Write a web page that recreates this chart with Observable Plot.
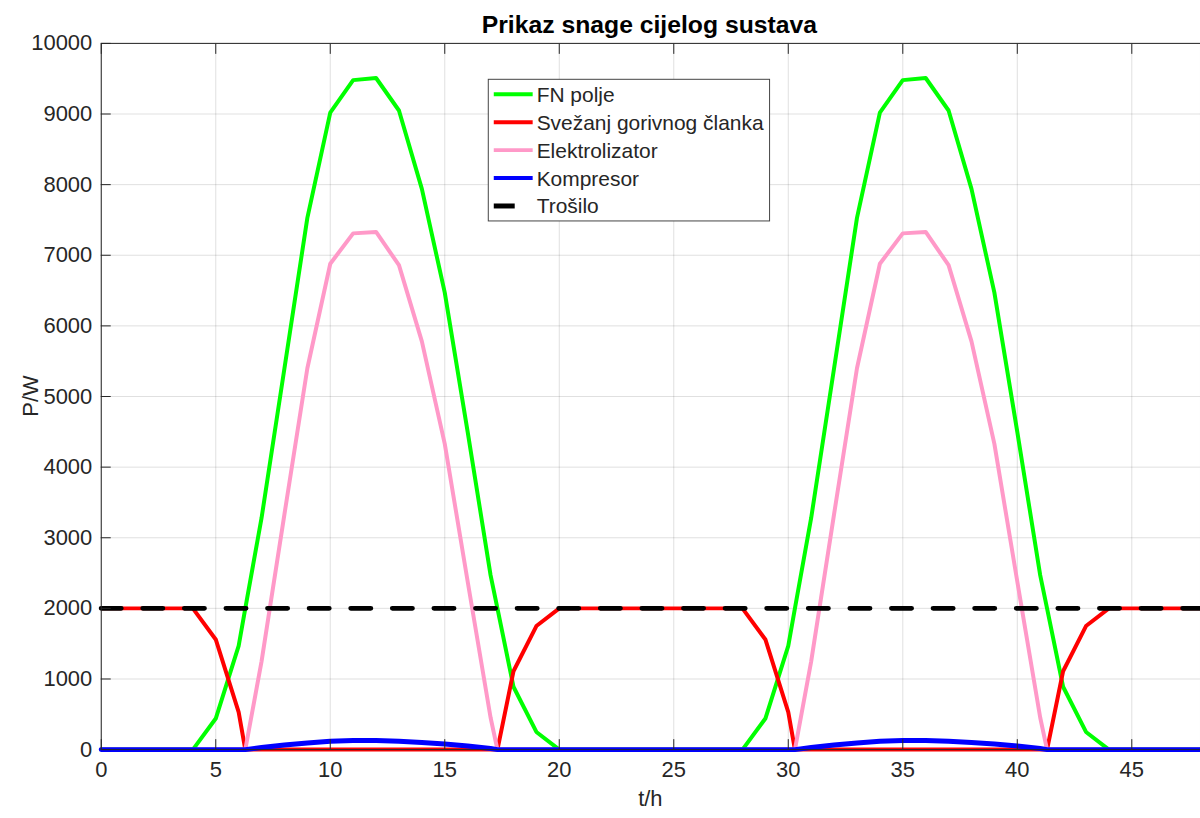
<!DOCTYPE html>
<html>
<head>
<meta charset="utf-8">
<script src="https://cdn.jsdelivr.net/npm/d3@7"></script>
<script src="https://cdn.jsdelivr.net/npm/@observablehq/plot@0.6"></script>
<style>
html, body { margin: 0; padding: 0; background: #fff; overflow: hidden; width: 1200px; height: 818px; }
#chart svg { display: block; }
</style>
</head>
<body>
<div id="chart"></div>
<script>
// ---- data ----
const hours = [0,1,2,3,4,5,6,6.29,7,8,9,10,11,12,13,14,15,16,17,17.3,18,19,20,21,22,23,24,25,26,27,28,29,30,30.29,31,32,33,34,35,36,37,38,39,40,41,41.3,42,43,44,45,46,47,48];
const fnPolje = [0,0,0,0,0,440,1470,2000,3280,5400,7530,9020,9480,9510,9050,7940,6470,4500,2470,2000,890,250,0,0,0,0,0,0,0,0,0,440,1470,2000,3280,5400,7530,9020,9480,9510,9050,7940,6470,4500,2470,2000,890,250,0,0,0,0,0];
const gorivniClanak = [2000,2000,2000,2000,2000,1560,530,0,0,0,0,0,0,0,0,0,0,0,0,0,1110,1750,2000,2000,2000,2000,2000,2000,2000,2000,2000,1560,530,0,0,0,0,0,0,0,0,0,0,0,0,0,1110,1750,2000,2000,2000,2000,2000];
const elektrolizator = [0,0,0,0,0,0,0,0,1250,3335,5400,6880,7310,7330,6860,5780,4330,2380,455,0,0,0,0,0,0,0,0,0,0,0,0,0,0,0,1250,3335,5400,6880,7310,7330,6860,5780,4330,2380,455,0,0,0,0,0,0,0,0];
const kompresor = [0,0,0,0,0,0,0,0,30,65,95,120,130,130,120,100,80,50,15,0,0,0,0,0,0,0,0,0,0,0,0,0,0,0,30,65,95,120,130,130,120,100,80,50,15,0,0,0,0,0,0,0,0];
const trosiloHours = [0,48];
const trosilo = [2000,2000];
const xTicks = [0,5,10,15,20,25,30,35,40,45];
const yTicks = [0,1000,2000,3000,4000,5000,6000,7000,8000,9000,10000];
const seriesNames = ["FN polje","Svežanj gorivnog članka","Elektrolizator","Kompresor","Trošilo"];
const seriesColors = ["#00ff00","#ff0000","#ff99c8","#0000ff","#000000"];

const rows = hours.map((t,i) => ({t, fn: fnPolje[i], fc: gorivniClanak[i], el: elektrolizator[i], kp: kompresor[i]}));
const loadRows = trosiloHours.map((t,i) => ({t, p: trosilo[i]}));

const ink = "#262626";
const font = "'Liberation Sans', Arial, Helvetica, sans-serif";

const chart = Plot.plot({
  width: 1203, height: 818,
  marginLeft: 101, marginRight: 0, marginTop: 43, marginBottom: 67,
  x: {domain: [0,48]},
  y: {domain: [0,10000]},
  style: {fontFamily: font, fontSize: "22px", color: ink, background: "white"},
  marks: [
    Plot.gridX(xTicks, {stroke: ink, strokeOpacity: 0.15, strokeWidth: 1}),
    Plot.gridY(yTicks, {stroke: ink, strokeOpacity: 0.15, strokeWidth: 1}),
    Plot.line(rows, {x: "t", y: "fn", stroke: seriesColors[0], strokeWidth: 4, strokeLinejoin: "round"}),
    Plot.line(rows, {x: "t", y: "fc", stroke: seriesColors[1], strokeWidth: 4, strokeLinejoin: "round"}),
    Plot.line(rows, {x: "t", y: "el", stroke: seriesColors[2], strokeWidth: 4, strokeLinejoin: "round"}),
    Plot.line(rows, {x: "t", y: "kp", stroke: seriesColors[3], strokeWidth: 5, strokeLinejoin: "round"}),
    Plot.line(loadRows, {x: "t", y: "p", stroke: seriesColors[4], strokeWidth: 5, strokeDasharray: "20,21.7"}),
    Plot.frame({stroke: ink, strokeWidth: 1}),
    Plot.axisX(xTicks, {anchor: "bottom", tickSize: -10, tickPadding: 22, label: null, fontSize: 22, tickFormat: d => String(d), stroke: ink}),
    Plot.axisX(xTicks, {anchor: "top", tickSize: -10, label: null, tickFormat: () => "", stroke: ink}),
    Plot.axisY(yTicks, {anchor: "left", tickSize: -10, tickPadding: 19, label: null, fontSize: 22, tickFormat: d => String(d), stroke: ink})
  ]
});

document.getElementById("chart").appendChild(chart);

const svg = d3.select(chart);
// title
svg.append("text").attr("x", 651).attr("y", 25).attr("text-anchor", "middle").attr("dominant-baseline", "central")
  .attr("font-family", font).attr("font-size", 24.8).attr("font-weight", "bold").attr("fill", "#000")
  .text("Prikaz snage cijelog sustava");
// axis labels
svg.append("text").attr("x", 652).attr("y", 801).attr("text-anchor", "middle").attr("dominant-baseline", "central")
  .attr("font-family", font).attr("font-size", 22).attr("fill", ink).text("t/h");
svg.append("text").attr("transform", "translate(31,397) rotate(-90)").attr("text-anchor", "middle").attr("dominant-baseline", "central")
  .attr("font-family", font).attr("font-size", 22).attr("fill", ink).text("P/W");

// legend
const lg = svg.append("g");
lg.append("rect").attr("x", 489.5).attr("y", 79.5).attr("width", 282).attr("height", 142)
  .attr("fill", "white").attr("stroke", "#444").attr("stroke-width", 1);
const rowY = [94.5, 122.5, 150.5, 178.5, 206.5];
seriesNames.forEach((name, i) => {
  const isLoad = i === 4;
  lg.append("line").attr("x1", 495).attr("x2", isLoad ? 516 : 534).attr("y1", rowY[i]).attr("y2", rowY[i])
    .attr("stroke", seriesColors[i]).attr("stroke-width", isLoad ? 5 : 4);
  lg.append("text").attr("x", 538).attr("y", rowY[i]).attr("text-anchor", "start").attr("dominant-baseline", "central")
    .attr("font-family", font).attr("font-size", 21).attr("fill", ink).text(name);
});
</script>
</body>
</html>
